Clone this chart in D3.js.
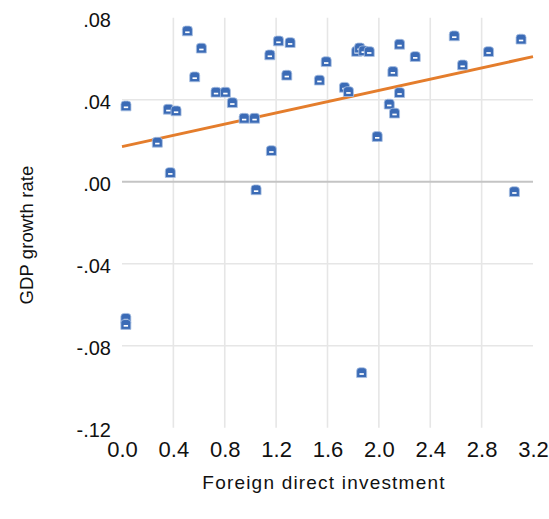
<!DOCTYPE html>
<html>
<head>
<meta charset="utf-8">
<script src="https://cdn.jsdelivr.net/npm/d3@7"></script>
<style>
  html, body { margin: 0; padding: 0; background: #fff; }
  svg { display: block; }
  text { font-family: "Liberation Sans", Arial, sans-serif; fill: #111; }
</style>
</head>
<body>
<svg id="chart" width="549" height="519"></svg>
<script>
// Foreign direct investment (x) vs GDP growth rate (y)
const fdi = [
  0.031, 0.509, 0.618, 0.566, 0.361, 0.421, 0.732, 0.805, 0.859, 0.951,
  1.032, 0.275, 0.376, 1.044, 1.163, 1.151, 1.218, 1.309, 1.283, 1.537,
  1.590, 1.732, 1.763, 1.827, 1.850, 1.882, 1.925, 2.161, 2.283, 2.109,
  2.161, 2.081, 2.122, 1.987, 2.587, 2.652, 2.854, 3.107, 3.055, 0.030,
  0.030, 1.866
];
const gdpGrowth = [
  0.0369, 0.0735, 0.0651, 0.0511, 0.0353, 0.0345, 0.0436, 0.0436, 0.0385, 0.0309,
  0.0309, 0.0192, 0.0044, -0.0040, 0.0151, 0.0618, 0.0686, 0.0678, 0.0519, 0.0495,
  0.0585, 0.0460, 0.0439, 0.0635, 0.0652, 0.0638, 0.0634, 0.0670, 0.0610, 0.0537,
  0.0434, 0.0378, 0.0334, 0.0220, 0.0711, 0.0569, 0.0634, 0.0695, -0.0049, -0.0667,
  -0.0697, -0.0932
];

// Fitted regression line
const fitIntercept = 0.0171;
const fitSlope = 0.01372;

// Axis ticks
const xTicks = [0.0, 0.4, 0.8, 1.2, 1.6, 2.0, 2.4, 2.8, 3.2];
const yTicks = [0.08, 0.04, 0.00, -0.04, -0.08, -0.12];

const xLabel = "Foreign direct investment";
const yLabel = "GDP growth rate";

const svg = d3.select("#chart");
const plotLeft = 122, plotRight = 533, plotTop = 17.7, plotBottom = 427.7;

const x = d3.scaleLinear().domain([0, 3.2]).range([plotLeft, plotRight]);
const y = d3.scaleLinear().domain([-0.12, 0.08]).range([plotBottom, plotTop]);

const fmtX = d3.format(".1f");
// ".04" / "-.04" style, with an ASCII hyphen
const fmtY = v => d3.format(".2f")(v).replace("\u2212", "-").replace("0.", ".");

// Grid
const grid = svg.append("g");
grid.selectAll("line.v")
  .data(xTicks.filter(t => t > 0 && t < 3.2))
  .join("line")
  .attr("x1", d => x(d)).attr("x2", d => x(d))
  .attr("y1", plotTop).attr("y2", plotBottom)
  .attr("stroke", "#e6e6e6").attr("stroke-width", 1.6);
grid.selectAll("line.h")
  .data(yTicks.filter(t => t !== 0 && t < 0.08 && t > -0.12))
  .join("line")
  .attr("x1", plotLeft).attr("x2", plotRight)
  .attr("y1", d => y(d)).attr("y2", d => y(d))
  .attr("stroke", "#e6e6e6").attr("stroke-width", 1.6);
grid.append("line")
  .attr("x1", plotLeft).attr("x2", plotRight)
  .attr("y1", y(0)).attr("y2", y(0))
  .attr("stroke", "#c4c4c4").attr("stroke-width", 2);

// Axes (labels only)
const xAxis = svg.append("g")
  .attr("transform", `translate(0,${plotBottom + 2})`)
  .call(d3.axisBottom(x).tickValues(xTicks).tickFormat(fmtX).tickSize(0).tickPadding(0));
xAxis.select(".domain").remove();
xAxis.selectAll("text")
  .attr("y", 27).attr("dy", null)
  .style("font-size", "22px")
  .style("font-family", "'Liberation Sans', Arial, sans-serif")
  .attr("fill", "#111");

const yAxis = svg.append("g")
  .attr("transform", `translate(${plotLeft},0)`)
  .call(d3.axisLeft(y).tickValues(yTicks).tickFormat(fmtY).tickSize(0).tickPadding(0));
yAxis.select(".domain").remove();
yAxis.selectAll("text")
  .attr("x", -11).attr("dy", "0.45em")
  .style("font-size", "20px")
  .style("font-family", "'Liberation Sans', Arial, sans-serif")
  .attr("fill", "#111");

// Axis titles
svg.append("text")
  .attr("x", 324).attr("y", 488.5)
  .attr("text-anchor", "middle")
  .style("font-size", "19px")
  .style("letter-spacing", "1.2px")
  .text(xLabel);

svg.append("text")
  .attr("transform", `translate(33,235) rotate(-90)`)
  .attr("text-anchor", "middle")
  .style("font-size", "18.5px")
  .style("letter-spacing", "0.1px")
  .text(yLabel);

// Regression line
svg.append("line")
  .attr("x1", x(0)).attr("y1", y(fitIntercept))
  .attr("x2", x(3.2)).attr("y2", y(fitIntercept + fitSlope * 3.2))
  .attr("stroke", "#e47d2c").attr("stroke-width", 3);

// Markers: rounded-top square with a white bar
const pts = fdi.map((v, i) => ({ x: v, y: gdpGrowth[i] }));
const marker = "M-5,4.8 V-1.8 Q-5,-5 -1.8,-5 H1.8 Q5,-5 5,-1.8 V4.8 Z";
const g = svg.append("g");
const m = g.selectAll("g.pt").data(pts).join("g")
  .attr("transform", d => `translate(${x(d.x)},${y(d.y)})`);
m.append("path")
  .attr("d", marker)
  .attr("fill", "#3b6bb6")
  .attr("stroke", "#a9c0e2").attr("stroke-width", 0.8);
m.append("rect")
  .attr("x", -2.2).attr("y", 0.4).attr("width", 4.4).attr("height", 1.7)
  .attr("fill", "#fff");
</script>
</body>
</html>
